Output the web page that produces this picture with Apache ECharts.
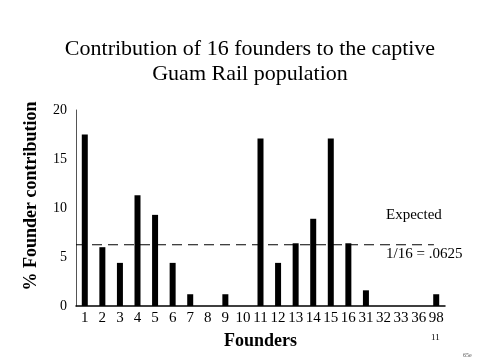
<!DOCTYPE html>
<html>
<head>
<meta charset="utf-8">
<script src="https://cdn.jsdelivr.net/npm/echarts@6/dist/echarts.min.js"></script>
<style>html,body{margin:0;padding:0;background:#fff}#c{width:480px;height:360px}</style>
</head>
<body>
<div id="c"></div>
<script>
var founders = ['1','2','3','4','5','6','7','8','9','10','11','12','13','14','15','16','31','32','33','36','98'];
var contribution = [17.5, 6.0, 4.4, 11.3, 9.3, 4.4, 1.2, 0, 1.2, 0, 17.1, 4.4, 6.4, 8.9, 17.1, 6.4, 1.6, 0, 0, 0, 1.2];
var expected = 6.25;
var expectedSpan = [0, 97]; // percent of axis length covered by the expected line
var yTicks = [0, 5, 10, 15, 20];
var titleLines = ['Contribution of 16 founders to the captive', 'Guam Rail population'];

var serif = 'Liberation Serif';
var chart = echarts.init(document.getElementById('c'), null, {renderer: 'canvas'});
chart.setOption({
  animation: false,
  backgroundColor: '#fff',
  grid: {left: 76, right: 35, top: 110, bottom: 54},
  xAxis: [{
    type: 'category', data: founders, boundaryGap: true,
    axisLine: {lineStyle: {color: '#000', width: 1.5}},
    axisTick: {show: false},
    axisLabel: {fontFamily: serif, fontSize: 15, color: '#000', margin: 5, interval: 0},
    name: 'Founders', nameLocation: 'middle', nameGap: 26,
    nameTextStyle: {fontFamily: serif, fontSize: 18, fontWeight: 'bold', color: '#000'}
  }, {
    type: 'value', min: 0, max: 100, show: false
  }],
  yAxis: {
    type: 'value', min: yTicks[0], max: yTicks[yTicks.length - 1], interval: 5,
    axisLine: {show: true, lineStyle: {color: '#555', width: 1}},
    axisTick: {show: false},
    splitLine: {show: false},
    axisLabel: {fontFamily: serif, fontSize: 14, color: '#000', margin: 9},
    name: '% Founder contribution', nameLocation: 'middle', nameGap: 36, nameRotate: 90,
    nameTextStyle: {fontFamily: serif, fontSize: 18, fontWeight: 'bold', color: '#000', padding: [0, 0, 0, 24]}
  },
  series: [{
    type: 'bar', data: contribution, barWidth: 6,
    itemStyle: {color: '#000'}
  }, {
    type: 'line', xAxisIndex: 1, symbol: 'none', silent: true,
    data: [[expectedSpan[0], expected], [expectedSpan[1], expected]],
    lineStyle: {type: [10, 6], color: '#000', width: 1}
  }],
  graphic: [
    {type: 'text', x: 250, y: 37, style: {text: titleLines.join('\n'), font: '22px "Liberation Serif"', fill: '#000', align: 'center', lineHeight: 25}},
    {type: 'text', left: 386, top: 208, style: {text: 'Expected', font: '15px "Liberation Serif"', fill: '#000'}},
    {type: 'text', left: 386, top: 247, style: {text: '1/16 = .0625', font: '15px "Liberation Serif"', fill: '#000'}},
    {type: 'text', left: 431, top: 333, style: {text: '11', font: '9px "Liberation Serif"', fill: '#000'}},
    {type: 'text', left: 463, top: 352, style: {text: '65e', font: '6px "Liberation Serif"', fill: '#555'}}
  ]
});
</script>
</body>
</html>
